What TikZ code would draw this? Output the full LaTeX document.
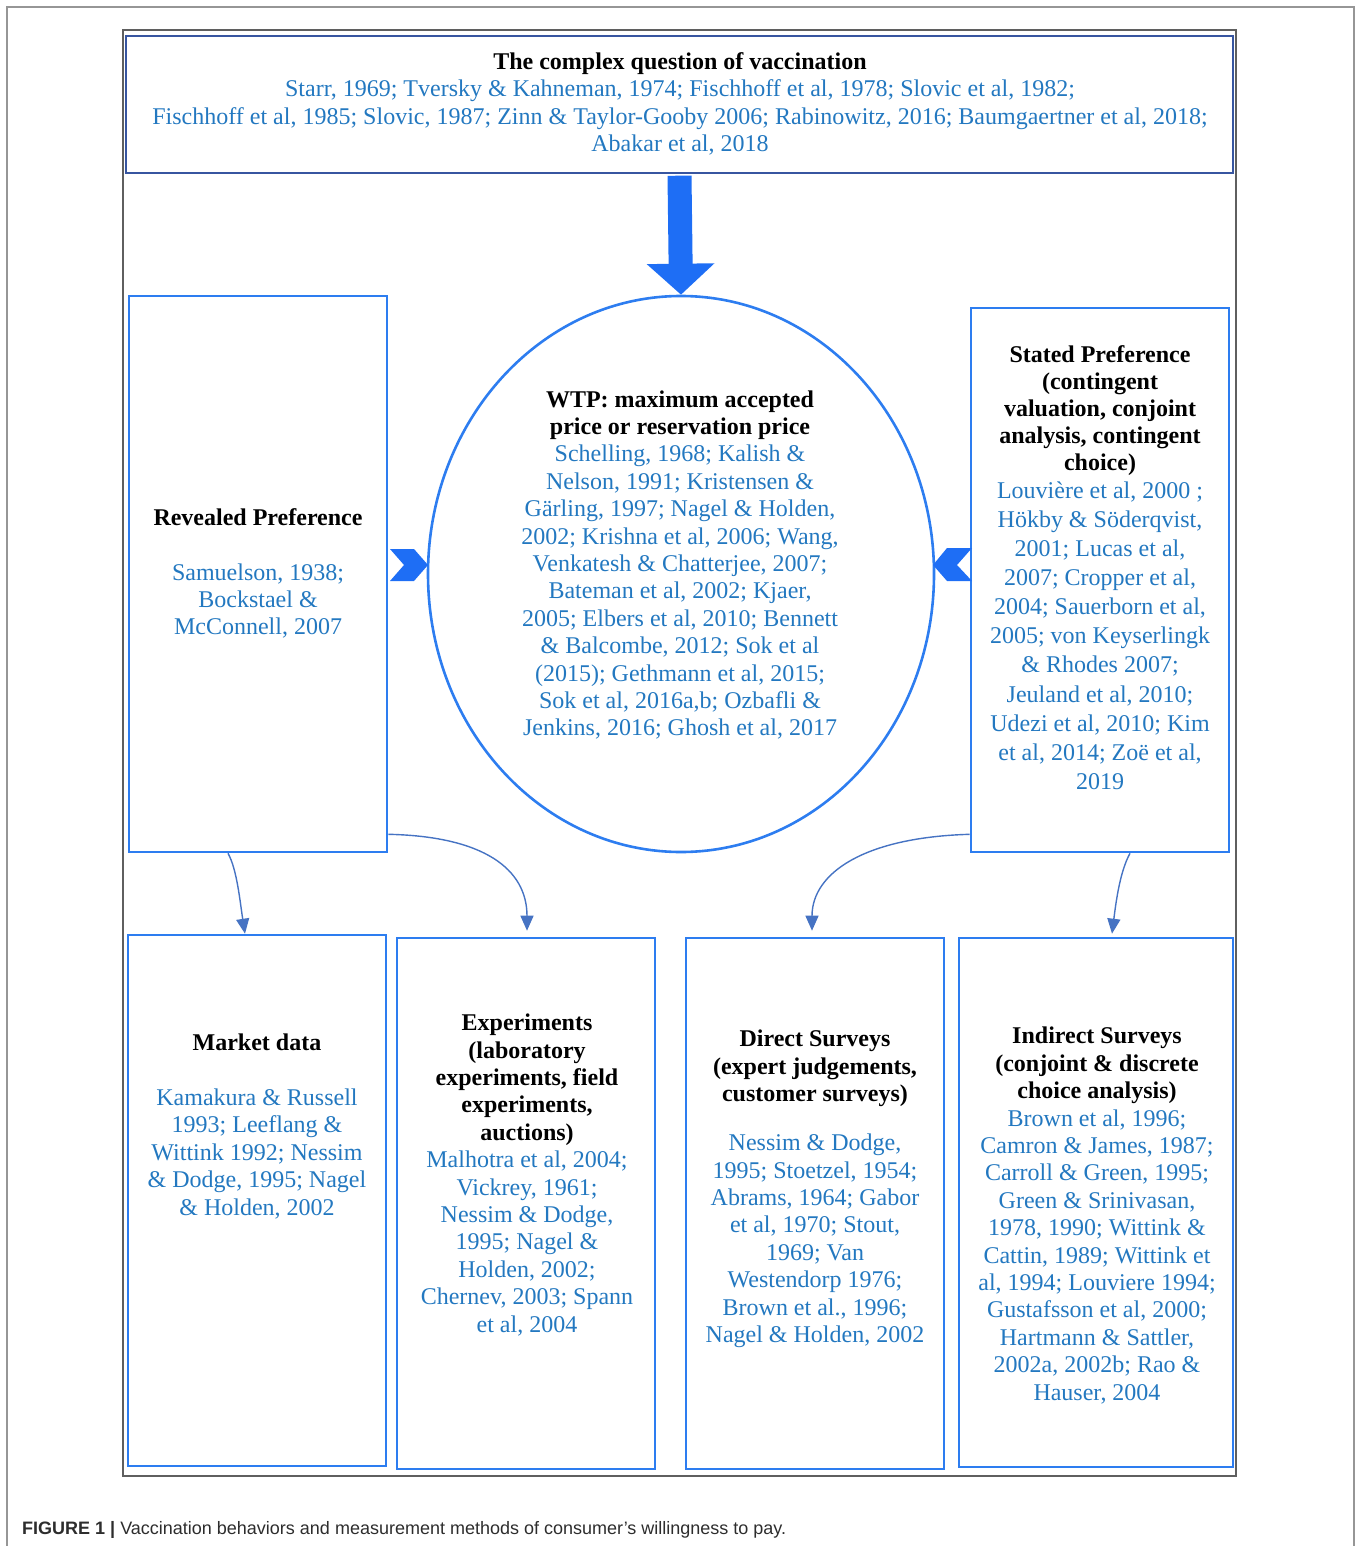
\documentclass[tikz,border=0pt]{standalone}
\usepackage{fontspec}
\setmainfont{Liberation Serif}
\newfontfamily\capfont{Liberation Sans}
\usetikzlibrary{arrows.meta,shapes.geometric}
\definecolor{reftext}{RGB}{35,120,192}
\definecolor{boxblue}{RGB}{45,125,240}
\definecolor{topblue}{RGB}{55,85,160}
\definecolor{arrowblue}{RGB}{30,110,245}
\definecolor{linkblue}{RGB}{70,115,195}
\definecolor{framegray}{RGB}{95,95,95}
\definecolor{outergray}{RGB}{150,150,150}
\definecolor{captext}{RGB}{45,45,45}
\newcommand{\mkhd}[1]{\textcolor{black}{\textbf{#1}}}
\begin{document}
\begin{tikzpicture}[x=1pt,y=-1pt,
  panel/.style={draw=boxblue, line width=2.6pt, inner sep=0pt},
  txt/.style={font=\fontsize{24}{27.4}\selectfont, align=center, inner sep=0pt, text=reftext},
  link/.style={draw=linkblue, line width=1.4pt, -{Triangle[length=15pt,width=13pt]}},
  chevron/.style={fill=arrowblue, draw=none}]
\useasboundingbox (0,0) rectangle (1358,1546);
% frames
\draw[outergray, line width=1.2pt] (7,1600) -- (7,7) -- (1354,7) -- (1354,1600);
\draw[framegray, line width=1.6pt] (123,30) rectangle (1236,1476);
% boxes
\node[draw=topblue, line width=2.4pt, inner sep=0pt, minimum width=1107pt, minimum height=137pt] (top) at (679.5,104.5) {};
\node[panel, minimum width=258pt, minimum height=556pt] (rp) at (258,574) {};
\node[panel, minimum width=258pt, minimum height=544pt] (sp) at (1100,580) {};
\node[draw=boxblue, line width=2.6pt, ellipse, inner sep=0pt, minimum width=506pt, minimum height=556pt] (wtp) at (681,574) {};
\node[panel, minimum width=258pt, minimum height=531pt] (md) at (257,1200.5) {};
\node[panel, minimum width=258pt, minimum height=531pt] (ex) at (526,1203.5) {};
\node[panel, minimum width=258pt, minimum height=531pt] (ds) at (815,1203.5) {};
\node[panel, minimum width=274pt, minimum height=529pt] (is) at (1096,1202.5) {};
% texts
\node[txt] (toptxt) at (680,104) {\mkhd{The complex question of vaccination}\\
Starr, 1969; Tversky \& Kahneman, 1974; Fischhoff et al, 1978; Slovic et al, 1982;\\
Fischhoff et al, 1985; Slovic, 1987; Zinn \& Taylor-Gooby 2006; Rabinowitz, 2016; Baumgaertner et al, 2018;\\
Abakar et al, 2018};
\node[txt] (rptxt) at (258,573.5) {\mkhd{Revealed Preference}\\[27.4pt]
Samuelson, 1938;\\ Bockstael \&\\ McConnell, 2007};
\node[txt] (wtptxt) at (680,565) {\mkhd{WTP: maximum accepted}\\
\mkhd{price or reservation price}\\
Schelling, 1968; Kalish \&\\
Nelson, 1991; Kristensen \&\\
Gärling, 1997; Nagel \& Holden,\\
2002; Krishna et al, 2006; Wang,\\
Venkatesh \& Chatterjee, 2007;\\
Bateman et al, 2002; Kjaer,\\
2005; Elbers et al, 2010; Bennett\\
\& Balcombe, 2012; Sok et al\\
(2015); Gethmann et al, 2015;\\
Sok et al, 2016a,b; Ozbafli \&\\
Jenkins, 2016; Ghosh et al, 2017};
\node[txt, font=\fontsize{24}{29.1}\selectfont] (sptxt) at (1100,567.5) {\mkhd{Stated Preference}\\[-2.1pt]
\mkhd{(contingent}\\[-2.1pt]
\mkhd{valuation, conjoint}\\[-2.1pt]
\mkhd{analysis, contingent}\\[-2.1pt]
\mkhd{choice)}\\[-1.1pt]
Louvière et al, 2000 ;\\
Hökby \& Söderqvist,\\
2001; Lucas et al,\\
2007; Cropper et al,\\
2004; Sauerborn et al,\\
2005; von Keyserlingk\\
\& Rhodes 2007;\\
Jeuland et al, 2010;\\
Udezi et al, 2010; Kim\\
et al, 2014; Zoë et al,\\
2019};
\node[txt] (mdtxt) at (257,1126.5) {\mkhd{Market data}\\[27.4pt]
Kamakura \& Russell\\
1993; Leeflang \&\\
Wittink 1992; Nessim\\
\& Dodge, 1995; Nagel\\
\& Holden, 2002};
\node[txt] (extxt) at (527,1175) {\mkhd{Experiments}\\
\mkhd{(laboratory}\\
\mkhd{experiments, field}\\
\mkhd{experiments,}\\
\mkhd{auctions)}\\
Malhotra et al, 2004;\\
Vickrey, 1961;\\
Nessim \& Dodge,\\
1995; Nagel \&\\
Holden, 2002;\\
Chernev, 2003; Spann\\
et al, 2004};
\node[txt] (dstxt) at (815,1189) {\mkhd{Direct Surveys}\\
\mkhd{(expert judgements,}\\
\mkhd{customer surveys)}\\[21.6pt]
Nessim \& Dodge,\\
1995; Stoetzel, 1954;\\
Abrams, 1964; Gabor\\
et al, 1970; Stout,\\
1969; Van\\
Westendorp 1976;\\
Brown et al., 1996;\\
Nagel \& Holden, 2002};
\node[txt] (istxt) at (1097,1215.5) {\mkhd{Indirect Surveys}\\
\mkhd{(conjoint \& discrete}\\
\mkhd{choice analysis)}\\
Brown et al, 1996;\\
Camron \& James, 1987;\\
Carroll \& Green, 1995;\\
Green \& Srinivasan,\\
1978, 1990; Wittink \&\\
Cattin, 1989; Wittink et\\
al, 1994; Louviere 1994;\\
Gustafsson et al, 2000;\\
Hartmann \& Sattler,\\
2002a, 2002b; Rao \&\\
Hauser, 2004};
% big down arrow
\draw[arrowblue, line width=24pt, -{Triangle[length=31pt,width=66pt]}] ([yshift=-1.5pt]top.south) -- (wtp.north);
% chevrons
\fill[chevron] (390,549) -- (414,549) -- (428,565) -- (414,581) -- (390,581) -- (404,565) -- cycle;
\fill[chevron] (933,565) -- (947,548) -- (972,548) -- (957,565) -- (972,581) -- (947,581) -- cycle;
% connectors
\coordinate (rpb) at ([xshift=-30pt]rp.south);
\coordinate (rpr) at ([yshift=19pt]rp.south east);
\coordinate (spl) at ([yshift=19pt]sp.south west);
\coordinate (spb) at ([xshift=30pt]sp.south);
\coordinate (mdt) at ([xshift=-12pt]md.north);
\coordinate (ext) at ([xshift=1pt,yshift=6pt]ex.north);
\coordinate (dst) at ([xshift=-3pt,yshift=6pt]ds.north);
\coordinate (ist) at ([xshift=16pt,yshift=3pt]is.north);
\draw[link] (rpb) .. controls +(9,16) and +(-5,-32) .. (mdt);
\draw[link] (rpr) .. controls +(95,2) and +(0,-62) .. (ext);
\draw[link] (spl) .. controls +(-105,3) and +(0,-58) .. (dst);
\draw[link] (spb) .. controls +(-10,18) and +(4,-32) .. (ist);
% caption
\node[anchor=base west, inner sep=0pt, font=\capfont\fontsize{18}{20}\selectfont, text=captext] (cap) at (22,1534) {\textbf{FIGURE 1 |} Vaccination behaviors and measurement methods of consumer’s willingness to pay.};
\end{tikzpicture}
\end{document}
